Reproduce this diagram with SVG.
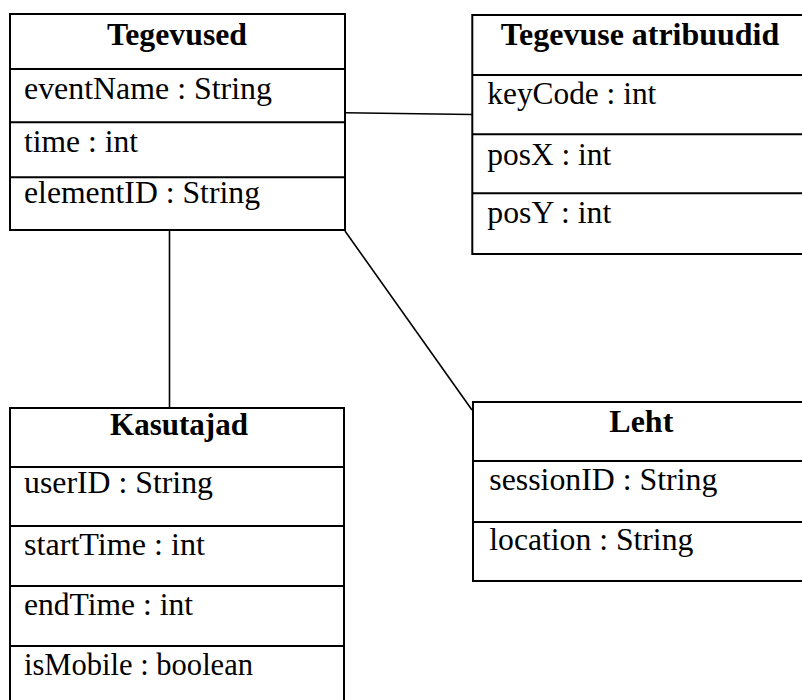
<svg xmlns="http://www.w3.org/2000/svg" width="802" height="700" viewBox="0 0 802 700">
  <style>
    .box { fill: #fff; stroke: #000; stroke-width: 2; }
    .div { stroke: #000; stroke-width: 2; }
    .conn { stroke: #000; stroke-width: 1.6; fill: none; }
    text { font-family: 'Liberation Serif', 'Times New Roman', serif; font-size: 31px; fill: #000; }
    .title { font-weight: bold; text-anchor: middle; }
  </style>
  <rect width="802" height="700" fill="#fff"/>

  <g id="connectors">
    <line class="conn" x1="345" y1="112.7" x2="472" y2="114.5"/>
    <line class="conn" x1="169.5" y1="230" x2="169.5" y2="408"/>
    <line class="conn" x1="345" y1="231" x2="472" y2="410"/>
  </g>

  <g id="tegevused">
    <rect class="box" x="10" y="14" width="335" height="216"/>
    <line class="div" x1="10" y1="69" x2="345" y2="69"/>
    <line class="div" x1="10" y1="122.3" x2="345" y2="122.3"/>
    <line class="div" x1="10" y1="177.3" x2="345" y2="177.3"/>
    <text class="title" x="177" y="45" textLength="140" lengthAdjust="spacingAndGlyphs">Tegevused</text>
    <text x="24" y="98.5" textLength="248" lengthAdjust="spacingAndGlyphs">eventName : String</text>
    <text x="24" y="151.7" textLength="114" lengthAdjust="spacingAndGlyphs">time : int</text>
    <text x="24" y="203.3" textLength="236" lengthAdjust="spacingAndGlyphs">elementID : String</text>
  </g>

  <g id="tegevuse-atribuudid">
    <rect class="box" x="472.3" y="15" width="340" height="239"/>
    <line class="div" x1="472.3" y1="75" x2="812" y2="75"/>
    <line class="div" x1="472.3" y1="134.3" x2="812" y2="134.3"/>
    <line class="div" x1="472.3" y1="193.3" x2="812" y2="193.3"/>
    <text class="title" x="640" y="45" textLength="278.6" lengthAdjust="spacingAndGlyphs">Tegevuse atribuudid</text>
    <text x="487.3" y="104" textLength="169" lengthAdjust="spacingAndGlyphs">keyCode : int</text>
    <text x="487.3" y="165" textLength="124" lengthAdjust="spacingAndGlyphs">posX : int</text>
    <text x="487.3" y="222.7" textLength="124" lengthAdjust="spacingAndGlyphs">posY : int</text>
  </g>

  <g id="kasutajad">
    <rect class="box" x="10" y="408" width="334" height="310"/>
    <line class="div" x1="10" y1="467" x2="344" y2="467"/>
    <line class="div" x1="10" y1="526" x2="344" y2="526"/>
    <line class="div" x1="10" y1="586" x2="344" y2="586"/>
    <line class="div" x1="10" y1="646" x2="344" y2="646"/>
    <text class="title" x="179" y="435" textLength="138" lengthAdjust="spacingAndGlyphs">Kasutajad</text>
    <text x="24" y="493.3" textLength="189" lengthAdjust="spacingAndGlyphs">userID : String</text>
    <text x="24" y="555" textLength="181" lengthAdjust="spacingAndGlyphs">startTime : int</text>
    <text x="24" y="615" textLength="169" lengthAdjust="spacingAndGlyphs">endTime : int</text>
    <text x="24" y="675" textLength="229" lengthAdjust="spacingAndGlyphs">isMobile : boolean</text>
  </g>

  <g id="leht">
    <rect class="box" x="473" y="402" width="340" height="179"/>
    <line class="div" x1="473" y1="461" x2="813" y2="461"/>
    <line class="div" x1="473" y1="522" x2="813" y2="522"/>
    <text class="title" x="641.3" y="431.7" textLength="64" lengthAdjust="spacingAndGlyphs">Leht</text>
    <text x="489.3" y="490" textLength="228" lengthAdjust="spacingAndGlyphs">sessionID : String</text>
    <text x="489.3" y="550" textLength="204" lengthAdjust="spacingAndGlyphs">location : String</text>
  </g>
</svg>
